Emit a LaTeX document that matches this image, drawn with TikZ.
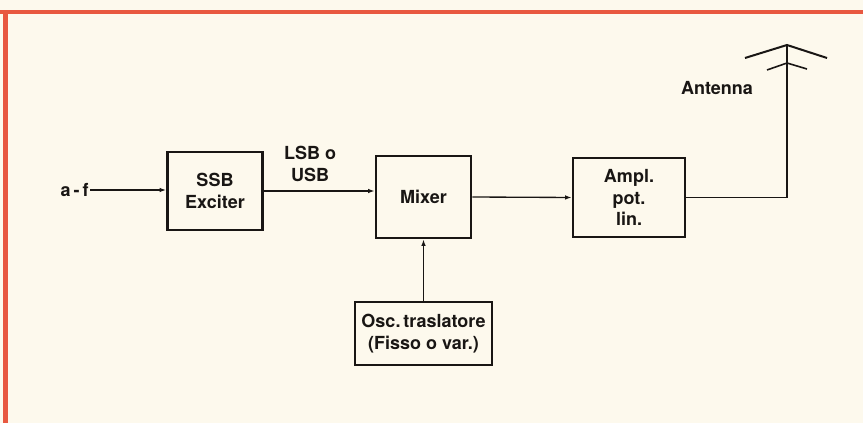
\documentclass[tikz,border=0pt]{standalone}
\usepackage{fontspec}
\setmainfont{TeX Gyre Heros}
\usetikzlibrary{arrows.meta}

\definecolor{paper}{RGB}{253,249,237}
\definecolor{frame}{RGB}{232,88,64}
\definecolor{ink}{RGB}{25,22,20}

\begin{document}
\begin{tikzpicture}[x=0.75pt,y=0.75pt,yscale=-1,xscale=1,
  blk/.style={draw=ink,line width=2pt,align=center,inner sep=2pt,
    font=\fontsize{13.5}{16}\selectfont\bfseries,text=ink},
  lbl/.style={align=center,inner sep=0.75pt,
    font=\fontsize{13.5}{16}\selectfont\bfseries,text=ink},
  wire/.style={draw=ink,line width=1pt},
  sig/.style={wire,-{Latex[length=5pt,width=3.5pt]}}]
%set diagram size 863 x 423
\useasboundingbox (0,0) rectangle (863,423);
\fill [paper] (0,0) rectangle (863,423);

%Frame lines
\fill [frame] (0,10) rectangle (863,14.5);
\fill [frame] (3,10) rectangle (8,423);

%Blocks
\node [blk,minimum width=71.25pt,minimum height=58.5pt] (exc) at (215,191) {SSB\\Exciter};
\node [blk,minimum width=71.25pt,minimum height=61.5pt] (mix) at (423.5,197) {Mixer};
\node [blk,minimum width=84pt,minimum height=59.25pt] (amp) at (629,197.5) {Ampl.\\pot.\\lin.};
\node [blk,minimum width=102.75pt,minimum height=47.25pt,inner sep=1pt] (osc) at (423.5,333.5) {Osc.\,traslatore\\(Fisso o var.)};

% Text Node
\node [lbl,anchor=east] (af) at (90,190) {a\,-\,f};
% Text Node
\node [lbl] (band) at (310,164) {LSB o\\USB};
% Text Node
\node [lbl] (antlbl) at (717,88) {Antenna};

%Antenna
\coordinate (anttop) at (787,45);
\coordinate (antmid) at (787,63);
\draw [ink,line width=1.5pt] (745,58) -- (anttop) -- (827,58);
\draw [ink,line width=1.2pt] (767,70) -- (antmid) -- (807,69);

%Connectors
\draw [sig] (af.east) -- (af.east -| exc.west);
\draw [sig] (exc.east) -- (exc.east -| mix.west);
\draw [sig] (mix.east) -- (amp.west);
\draw [sig] (osc.north) -- (mix.south);
\draw [wire] (amp.east) -| (anttop);

\end{tikzpicture}
\end{document}
